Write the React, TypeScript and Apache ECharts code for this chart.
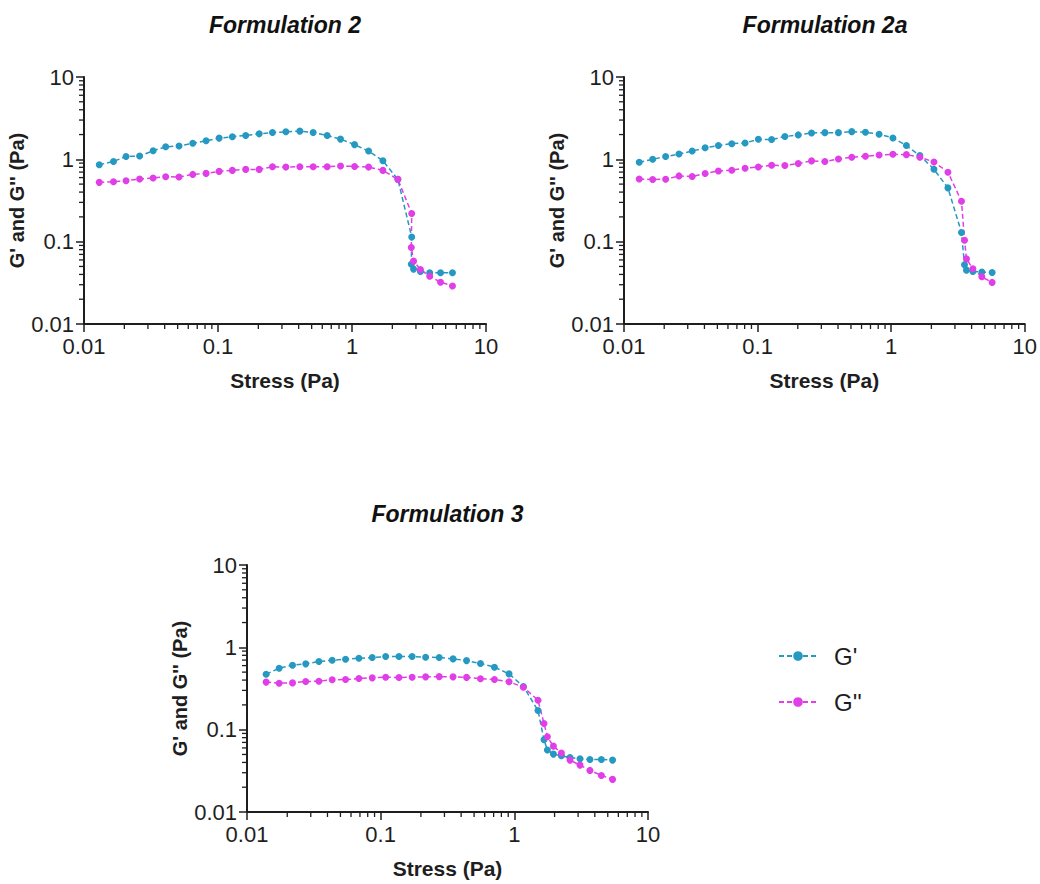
import React, { useEffect, useRef } from "react";
import * as echarts from "echarts";

// ---------- data ----------
const F2_STRESS = [0.013, 0.0166, 0.0206, 0.026, 0.0328, 0.0407, 0.0512, 0.0648, 0.0815, 0.102, 0.128, 0.161, 0.203, 0.255, 0.321, 0.408, 0.513, 0.653, 0.821, 1.045, 1.33, 1.7, 2.2, 2.79, 2.77, 2.88, 3.24, 3.8, 4.58, 5.62];
const F2_GP = [0.859, 0.943, 1.084, 1.095, 1.27, 1.42, 1.45, 1.57, 1.68, 1.81, 1.88, 1.95, 2.04, 2.12, 2.16, 2.2, 2.12, 1.95, 1.76, 1.51, 1.26, 0.96, 0.571, 0.114, 0.0533, 0.0464, 0.0435, 0.042, 0.042, 0.042];
const F2_GPP = [0.525, 0.535, 0.55, 0.576, 0.593, 0.615, 0.609, 0.656, 0.675, 0.714, 0.734, 0.755, 0.755, 0.813, 0.805, 0.813, 0.813, 0.813, 0.828, 0.82, 0.805, 0.734, 0.571, 0.22, 0.085, 0.058, 0.046, 0.038, 0.0322, 0.029];

const F2A_STRESS = [0.013, 0.0164, 0.0205, 0.0258, 0.0324, 0.0405, 0.0509, 0.0641, 0.0806, 0.1013, 0.1274, 0.16, 0.2015, 0.2535, 0.319, 0.403, 0.507, 0.642, 0.812, 1.03, 1.3, 1.64, 2.09, 2.66, 3.36, 3.54, 3.66, 4.09, 4.77, 5.7];
const F2A_GP = [0.922, 1.0, 1.08, 1.16, 1.26, 1.38, 1.47, 1.55, 1.58, 1.75, 1.74, 1.89, 1.98, 2.09, 2.11, 2.11, 2.17, 2.13, 2.02, 1.82, 1.47, 1.11, 0.758, 0.45, 0.129, 0.0523, 0.0451, 0.0435, 0.0427, 0.0423];
const F2A_GPP = [0.578, 0.569, 0.573, 0.629, 0.618, 0.673, 0.723, 0.738, 0.78, 0.809, 0.848, 0.841, 0.889, 0.957, 0.94, 1.011, 1.06, 1.09, 1.13, 1.15, 1.14, 1.06, 0.93, 0.697, 0.31, 0.104, 0.0618, 0.0468, 0.0374, 0.032];

const F3_STRESS = [0.0139, 0.0174, 0.0219, 0.0275, 0.0345, 0.0434, 0.0546, 0.0687, 0.0865, 0.109, 0.137, 0.172, 0.217, 0.274, 0.348, 0.439, 0.558, 0.71, 0.913, 1.169, 1.503, 1.667, 1.767, 1.96, 2.25, 2.61, 3.1, 3.68, 4.48, 5.43];
const F3_GP = [0.472, 0.558, 0.607, 0.63, 0.672, 0.698, 0.718, 0.738, 0.752, 0.773, 0.773, 0.773, 0.759, 0.752, 0.724, 0.69, 0.636, 0.574, 0.476, 0.334, 0.171, 0.0753, 0.0565, 0.0505, 0.0482, 0.046, 0.0443, 0.0435, 0.0435, 0.0427];
const F3_GPP = [0.378, 0.367, 0.37, 0.384, 0.388, 0.403, 0.406, 0.418, 0.426, 0.434, 0.43, 0.434, 0.438, 0.441, 0.438, 0.432, 0.416, 0.406, 0.381, 0.328, 0.228, 0.119, 0.0819, 0.0631, 0.0519, 0.0427, 0.0371, 0.032, 0.0278, 0.0249];

const TITLES = ["Formulation 2", "Formulation 2a", "Formulation 3"];
const SERIES_NAMES = ["G'", "G''"];
const X_NAME = "Stress (Pa)";
const Y_NAME = "G' and G'' (Pa)";
const AXIS_MIN = 0.01;
const AXIS_MAX = 10;
const MINOR_DECADES = [0.01, 0.1, 1];
const MINOR_MULTIPLIERS = [2, 3, 4, 5, 6, 7, 8, 9];

const PANELS = [
  { stress: F2_STRESS, gp: F2_GP, gpp: F2_GPP },
  { stress: F2A_STRESS, gp: F2A_GP, gpp: F2A_GPP },
  { stress: F3_STRESS, gp: F3_GP, gpp: F3_GPP },
];

// ---------- styling ----------
const BLUE = "#2599c1";
const MAGENTA = "#e03ee6";
const INK = "#1e1e1e";
const FONT = '"Liberation Sans", Arial, Helvetica, sans-serif';
const GRIDS = [
  { left: 84, top: 77, width: 402, height: 247 },
  { left: 624, top: 77, width: 402, height: 247 },
  { left: 247, top: 565, width: 401, height: 247 },
];

export default function App() {
  const ref = useRef<HTMLDivElement>(null);

  useEffect(() => {
    if (!ref.current) return;
    const chart = echarts.init(ref.current, undefined, { renderer: "svg" });

    const fmt = (v: number) => String(Number(v.toPrecision(3)));

    const xAxes = GRIDS.map((_, i) => ({
      type: "log",
      logBase: 10,
      gridIndex: i,
      min: AXIS_MIN,
      max: AXIS_MAX,
      name: X_NAME,
      nameLocation: "middle",
      nameGap: 46,
      nameTextStyle: { fontFamily: FONT, fontWeight: "bold", fontSize: 21, color: INK },
      axisLine: { show: true, onZero: false, lineStyle: { color: INK, width: 2 } },
      axisTick: { show: true, length: 8, lineStyle: { color: INK, width: 1.5 } },
      axisLabel: { fontFamily: FONT, fontSize: 22, color: INK, margin: 11, formatter: fmt },
      splitLine: { show: false },
    }));

    const yAxes = GRIDS.map((_, i) => ({
      type: "log",
      logBase: 10,
      gridIndex: i,
      min: AXIS_MIN,
      max: AXIS_MAX,
      name: Y_NAME,
      nameLocation: "middle",
      nameGap: 49,
      nameTextStyle: { fontFamily: FONT, fontWeight: "bold", fontSize: 20, color: INK },
      axisLine: { show: true, onZero: false, lineStyle: { color: INK, width: 2 } },
      axisTick: { show: true, length: 8, lineStyle: { color: INK, width: 1.5 } },
      axisLabel: { fontFamily: FONT, fontSize: 22, color: INK, margin: 10, formatter: fmt },
      splitLine: { show: false },
    }));

    const minorTicks = (params: any, api: any) => {
      const children: any[] = [];
      for (const d of MINOR_DECADES) {
        for (const m of MINOR_MULTIPLIERS) {
          const v = d * m;
          const px = api.coord([v, AXIS_MIN]);
          children.push({
            type: "line",
            shape: { x1: px[0], y1: px[1], x2: px[0], y2: px[1] + 5 },
            style: { stroke: INK, lineWidth: 1.3 },
          });
          const py = api.coord([AXIS_MIN, v]);
          children.push({
            type: "line",
            shape: { x1: py[0] - 5, y1: py[1], x2: py[0], y2: py[1] },
            style: { stroke: INK, lineWidth: 1.3 },
          });
        }
      }
      return { type: "group", children };
    };

    const series: any[] = [];
    PANELS.forEach((p, i) => {
      series.push({
        type: "custom",
        xAxisIndex: i,
        yAxisIndex: i,
        silent: true,
        clip: false,
        data: [[1, 1]],
        renderItem: minorTicks,
        z: 1,
      });
      [
        { name: SERIES_NAMES[0], vals: p.gp, color: BLUE },
        { name: SERIES_NAMES[1], vals: p.gpp, color: MAGENTA },
      ].forEach((s) => {
        series.push({
          type: "line",
          name: s.name,
          xAxisIndex: i,
          yAxisIndex: i,
          data: p.stress.map((x, j) => [x, s.vals[j]]),
          symbol: "circle",
          symbolSize: 7,
          lineStyle: { color: s.color, width: 1.5, type: [5, 3] },
          itemStyle: { color: s.color },
          z: 3,
        });
      });
    });

    const titleGraphics = TITLES.map((t, i) => ({
      type: "text",
      x: GRIDS[i].left + GRIDS[i].width / 2,
      y: i < 2 ? 25 : 514,
      style: {
        text: t,
        font: `italic bold 23px ${FONT}`,
        fill: "#111",
        textAlign: "center",
        textVerticalAlign: "middle",
      },
    }));

    chart.setOption({
      animation: false,
      backgroundColor: "#ffffff",
      grid: GRIDS.map((g) => ({ ...g, containLabel: false })),
      xAxis: xAxes,
      yAxis: yAxes,
      legend: {
        data: SERIES_NAMES,
        orient: "vertical",
        left: 773,
        top: 638,
        itemWidth: 38,
        itemHeight: 12,
        itemGap: 20,
        textStyle: { fontFamily: FONT, fontSize: 24, color: INK, lineHeight: 26, padding: [0, 0, 0, 12] },
        selectedMode: false,
      },
      graphic: titleGraphics,
      series,
    });

    return () => chart.dispose();
  }, []);

  return (
    <div
      ref={ref}
      style={{ position: "fixed", left: 0, top: 0, width: 1040, height: 884, background: "#fff" }}
    />
  );
}
